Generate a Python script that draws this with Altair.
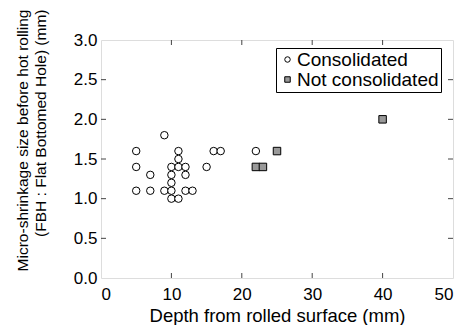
import altair as alt
import pandas as pd

# Data
cons_x = [5, 5, 5, 7, 7, 9, 9, 10, 10, 10, 10, 10, 11, 11, 11, 11, 12, 12, 12, 13, 15, 16, 17, 22]
cons_y = [1.6, 1.4, 1.1, 1.3, 1.1, 1.8, 1.1, 1.4, 1.3, 1.2, 1.1, 1.0, 1.6, 1.5, 1.4, 1.0, 1.4, 1.3, 1.1, 1.1, 1.4, 1.6, 1.6, 1.6]
notc_x = [22, 23, 25, 40]
notc_y = [1.4, 1.4, 1.6, 2.0]
categories = ["Consolidated", "Not consolidated"]
x_ticks = [0, 10, 20, 30, 40, 50]
y_ticks = [0.0, 0.5, 1.0, 1.5, 2.0, 2.5, 3.0]

W, H = 352, 238
FONT = "Liberation Sans"

df = pd.DataFrame({
    "depth": cons_x + notc_x,
    "size": cons_y + notc_y,
    "type": [categories[0]] * len(cons_x) + [categories[1]] * len(notc_x),
})

xs = alt.Scale(domain=[0, 50], nice=False)
ys = alt.Scale(domain=[0, 3], nice=False)

x_axis = alt.Axis(
    values=x_ticks, format="d", ticks=False, grid=False, domain=False, labelOverlap=False,
    labelFontSize=17, labelPadding=8, labelColor="black", labelFont=FONT,
    title="Depth from rolled surface    (mm)", titleFontSize=18.5, titleFont=FONT,
    titleFontWeight="normal", titleColor="black", titlePadding=4)
y_axis = alt.Axis(
    values=y_ticks, format=".1f", ticks=False, grid=False, domain=False, labelOverlap=False,
    labelFontSize=17, labelPadding=4, labelColor="black", labelFont=FONT,
    title=["Micro-shrinkage size before hot rolling", "(FBH : Flat Bottomed Hole)     (mm)"],
    titleFontSize=15.5, titleFont=FONT, titleFontWeight="normal", titleColor="black",
    titleAlign="right", titleY=-31, titlePadding=25, titleLineHeight=18)

legend_def = dict(title=None, orient="none", legendX=175, legendY=8,
                  labelFontSize=19, labelFont=FONT, labelColor="black",
                  symbolSize=30, symbolStrokeColor="black", symbolStrokeWidth=1,
                  strokeColor="black", padding=2, rowPadding=0,
                  fillColor="white", labelOffset=0)

points = alt.Chart(df).mark_point(filled=False, strokeWidth=1, opacity=1, size=56).encode(
    x=alt.X("depth:Q", scale=xs, axis=x_axis),
    y=alt.Y("size:Q", scale=ys, axis=y_axis),
    shape=alt.Shape("type:N", scale=alt.Scale(domain=categories, range=["circle", "square"]),
                    legend=alt.Legend(**legend_def)),
    fill=alt.Fill("type:N", scale=alt.Scale(domain=categories, range=["white", "#999999"]),
                  legend=alt.Legend(**legend_def)),
    stroke=alt.Stroke("type:N", scale=alt.Scale(domain=categories, range=["black", "black"]),
                      legend=alt.Legend(**legend_def)),
)

xt = pd.DataFrame({"t": x_ticks[1:-1]})
yt = pd.DataFrame({"t": y_ticks[1:-1]})
tick_style = dict(color="#444444", strokeWidth=1)
bx = alt.Chart(xt).mark_rule(**tick_style).encode(x=alt.X("t:Q", scale=xs, axis=x_axis), y=alt.value(H), y2=alt.value(H - 5))
tx = alt.Chart(xt).mark_rule(**tick_style).encode(x=alt.X("t:Q", scale=xs, axis=x_axis), y=alt.value(0), y2=alt.value(5))
ly = alt.Chart(yt).mark_rule(**tick_style).encode(y=alt.Y("t:Q", scale=ys, axis=y_axis), x=alt.value(0), x2=alt.value(5))
ry = alt.Chart(yt).mark_rule(**tick_style).encode(y=alt.Y("t:Q", scale=ys, axis=y_axis), x=alt.value(W), x2=alt.value(W - 5))

chart = alt.layer(points, bx, tx, ly, ry).properties(
    width=W, height=H,
    autosize=alt.AutoSizeParams(type="none"),
    padding={"left": 93, "top": 32, "right": 12, "bottom": 47},
).configure_view(stroke="#444444", strokeWidth=1.2).configure(background="white")

chart.save("out.html", embed_options={"renderer": "svg", "actions": False})
